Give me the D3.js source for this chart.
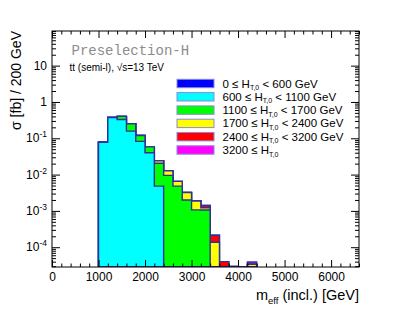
<!DOCTYPE html>
<html>
<head>
<meta charset="utf-8">
<script src="https://cdn.jsdelivr.net/npm/d3@7"></script>
<style>
  html, body { margin: 0; padding: 0; background: #fff; }
  svg { display: block; font-family: "Liberation Sans", Arial, sans-serif; }
</style>
</head>
<body>
<div id="chart"></div>
<script>
// bins of 200 GeV in m_eff, lower edges
const binLow = [1000, 1200, 1400, 1600, 1800, 2000, 2200, 2400, 2600, 2800, 3000, 3200, 3400, 3600, 3800, 4000, 4200]
const binWidth = 200

// cross section per bin [fb], one array per H_T,0 slice (stacked bottom to top)
const htBin0 = [0, 0, 0, 0, 0, 0, 0, 0, 0, 0, 0, 0, 0, 0, 0, 0, 0]
const htBin1 = [0.078, 0.374, 0.33, 0.157, 0.082, 0.040, 0.0048, 0, 0, 0, 0, 0, 0, 0, 0, 0, 0]
const htBin2 = [0, 0, 0.07, 0.093, 0.037, 0.018, 0.0158, 0.0095, 0.0048, 0.0020, 0.00107, 0.00106, 0, 0, 0, 0, 0]
const htBin3 = [0, 0, 0, 0, 0, 0, 0.0034, 0.0032, 0.0017, 0.0012, 0.0008, 0.00016, 0.000137, 0, 0, 0, 0.000034]
const htBin4 = [0, 0, 0, 0, 0, 0, 0, 0, 0, 0, 0.00003, 0.00019, 0.000077, 0.00004, 0, 0, 0]
const htBin5 = [0, 0, 0, 0, 0, 0, 0, 0, 0, 0, 0, 0, 0, 0, 0.00003, 0, 0.000005]

const htLow = [0, 600, 1100, 1700, 2400, 3200]
const htHigh = [600, 1100, 1700, 2400, 3200, null]
const seriesColors = ["#0000ff", "#00ffff", "#00ff00", "#ffff00", "#ff0000", "#ff00ff"]

const xTicks = [0, 1000, 2000, 3000, 4000, 5000, 6000]
const yTicks = [1e-4, 1e-3, 1e-2, 1e-1, 1, 10]

const W = 399, H = 316
const frame = { left: 52, right: 359, top: 31, bottom: 267 }
const lineColor = "#30309a"

const svg = d3.select("#chart").append("svg")
  .attr("width", W)
  .attr("height", H)

const x = d3.scaleLinear().domain([0, 6600]).range([frame.left, frame.right])
const y = d3.scaleLog().domain([2.85e-5, 90]).range([frame.bottom, frame.top])
const yMin = y.domain()[0]

svg.append("clipPath").attr("id", "frameClip")
  .append("rect")
  .attr("x", frame.left).attr("y", frame.top)
  .attr("width", frame.right - frame.left)
  .attr("height", frame.bottom - frame.top)

// stack the slices
const keys = ["s0", "s1", "s2", "s3", "s4", "s5"]
const series = [htBin0, htBin1, htBin2, htBin3, htBin4, htBin5]
const rows = binLow.map((lo, i) => {
  const r = { lo }
  keys.forEach((k, j) => { r[k] = series[j][i] })
  return r
})
const stacked = d3.stack().keys(keys)(rows)

// step area of each cumulative histogram, drawn from the top one down (like THStack)
const area = d3.area()
  .x(d => x(d[0]))
  .y0(frame.bottom)
  .y1(d => y(Math.max(d[1], yMin)))

const hist = svg.append("g").attr("clip-path", "url(#frameClip)")
for (let k = stacked.length - 1; k >= 0; k--) {
  const pts = []
  stacked[k].forEach(d => {
    pts.push([d.data.lo, d[1]])
    pts.push([d.data.lo + binWidth, d[1]])
  })
  hist.append("path")
    .attr("d", area(pts))
    .attr("fill", seriesColors[k])
    .attr("stroke", lineColor)
    .attr("stroke-width", 1.4)
    .attr("stroke-linejoin", "miter")
}

// minor tick values
const xMinor = d3.range(0, 6601, 200).filter(v => v % 1000 !== 0)
const yMinor = []
for (let e = -5; e <= 1; e++) {
  for (let m = 2; m <= 9; m++) {
    const v = m * Math.pow(10, e)
    if (v >= y.domain()[0] && v <= y.domain()[1]) yMinor.push(v)
  }
}

function styleAxis(g) {
  g.select(".domain").remove()
  g.selectAll("line").attr("stroke", "#000").attr("stroke-width", 1)
}

// x axes (bottom with labels, top ticks only)
svg.append("g")
  .attr("transform", `translate(0,${frame.bottom})`)
  .call(d3.axisBottom(x).tickValues(xTicks).tickSize(-7).tickPadding(5).tickFormat(d3.format("d")))
  .call(styleAxis)
  .selectAll("text")
  .attr("fill", "#000")
  .style("font-size", "12px")
  .style("font-family", "Liberation Sans, Arial, sans-serif")

svg.append("g")
  .attr("transform", `translate(0,${frame.bottom})`)
  .call(d3.axisBottom(x).tickValues(xMinor).tickSize(-3.5).tickFormat(""))
  .call(styleAxis)

svg.append("g")
  .attr("transform", `translate(0,${frame.top})`)
  .call(d3.axisTop(x).tickValues(xTicks).tickSize(-7).tickFormat(""))
  .call(styleAxis)

svg.append("g")
  .attr("transform", `translate(0,${frame.top})`)
  .call(d3.axisTop(x).tickValues(xMinor).tickSize(-3.5).tickFormat(""))
  .call(styleAxis)

// y axes (left with labels, right ticks only)
svg.append("g")
  .attr("transform", `translate(${frame.left},0)`)
  .call(d3.axisLeft(y).tickValues(yTicks).tickSize(-8).tickFormat(""))
  .call(styleAxis)

svg.append("g")
  .attr("transform", `translate(${frame.left},0)`)
  .call(d3.axisLeft(y).tickValues(yMinor).tickSize(-4).tickFormat(""))
  .call(styleAxis)

svg.append("g")
  .attr("transform", `translate(${frame.right},0)`)
  .call(d3.axisRight(y).tickValues(yTicks).tickSize(-8).tickFormat(""))
  .call(styleAxis)

svg.append("g")
  .attr("transform", `translate(${frame.right},0)`)
  .call(d3.axisRight(y).tickValues(yMinor).tickSize(-4).tickFormat(""))
  .call(styleAxis)

// y tick labels with exponents
const yLab = svg.append("g")
  .selectAll("text")
  .data(yTicks)
  .join("text")
  .attr("x", frame.left - 5)
  .attr("y", d => y(d) + 4)
  .attr("text-anchor", "end")
  .style("font-size", "12px")
  .attr("fill", "#000")
yLab.each(function (d) {
  const t = d3.select(this)
  const e = Math.round(Math.log10(d))
  if (e >= 0) {
    t.text(String(d))
  } else {
    t.append("tspan").text("10")
    t.append("tspan").attr("dy", -5).style("font-size", "8.5px").text(String(e))
  }
})

// frame
svg.append("rect")
  .attr("x", frame.left).attr("y", frame.top)
  .attr("width", frame.right - frame.left)
  .attr("height", frame.bottom - frame.top)
  .attr("fill", "none")
  .attr("stroke", "#000")
  .attr("stroke-width", 1)

// axis titles
svg.append("text")
  .attr("transform", `translate(21,${frame.top}) rotate(-90)`)
  .attr("text-anchor", "end")
  .style("font-size", "14px")
  .text("σ [fb] / 200 GeV")

const xTitle = svg.append("text")
  .attr("x", frame.right)
  .attr("y", 300)
  .attr("text-anchor", "end")
  .style("font-size", "14.5px")
xTitle.append("tspan").text("m")
xTitle.append("tspan").attr("dy", 3.5).style("font-size", "9.5px").text("eff")
xTitle.append("tspan").attr("dy", -3.5).text(" (incl.) [GeV]")

// labels inside the frame
svg.append("text")
  .attr("x", 71.5)
  .attr("y", 55)
  .style("font-family", "Liberation Mono, Courier New, monospace")
  .style("font-size", "14px")
  .attr("fill", "#8c8c8c")
  .text("Preselection-H")

svg.append("text")
  .attr("x", 69.5)
  .attr("y", 71)
  .style("font-size", "10px")
  .text("tt (semi-l), √s=13 TeV")

// legend
const legend = svg.append("g")
const rowH = 13.3
const legendTop = 83.5
htLow.forEach((lo, i) => {
  const cy = legendTop + i * rowH
  legend.append("rect")
    .attr("x", 177).attr("y", cy - 4.2)
    .attr("width", 37).attr("height", 8.4)
    .attr("fill", seriesColors[i])
    .attr("stroke", "#8a8ad8")
    .attr("stroke-width", 1)
  const t = legend.append("text")
    .attr("x", 222.5)
    .attr("y", cy + 4)
    .style("font-size", "11.5px")
  t.append("tspan").text(`${lo} ≤ H`)
  t.append("tspan").attr("dy", 2.5).style("font-size", "7px").text("T,0")
  if (htHigh[i] !== null) {
    t.append("tspan").attr("dy", -2.5).text(` < ${htHigh[i]} GeV`)
  }
})
</script>
</body>
</html>
